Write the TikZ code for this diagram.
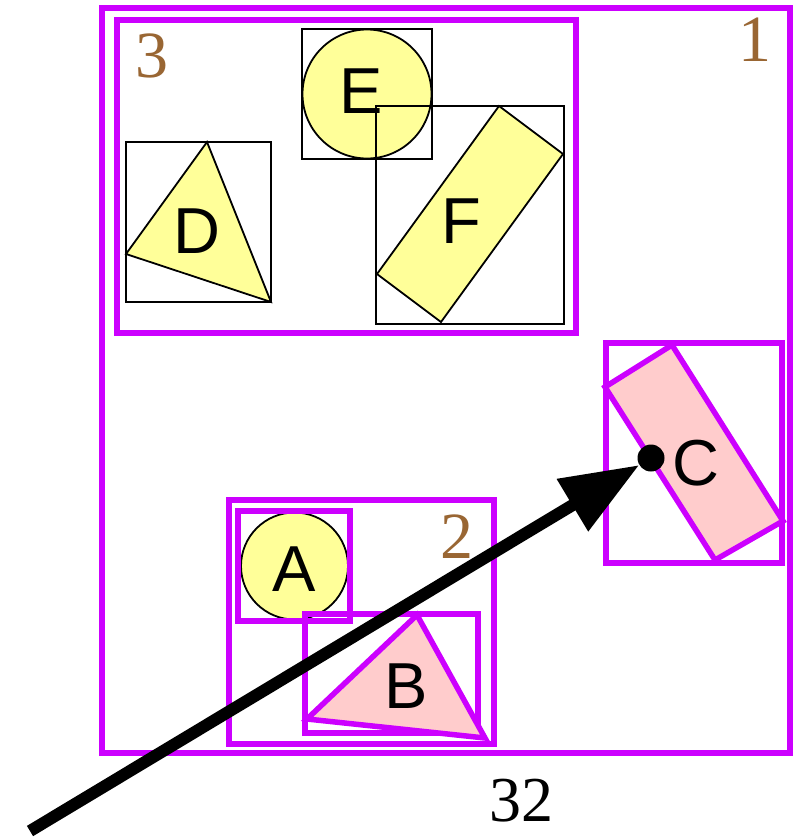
\documentclass[tikz,border=0pt]{standalone}
\usepackage{fontspec}
\setmainfont{Liberation Serif}
\newfontfamily\lettersans{Liberation Sans}
\usetikzlibrary{arrows.meta}
\definecolor{frame}{HTML}{CC00FF}
\definecolor{tag}{HTML}{996633}
\definecolor{paleyellow}{HTML}{FFFF99}
\definecolor{palepink}{HTML}{FFCCCC}
\begin{document}
\begin{tikzpicture}[x=1pt,y=-1pt,
  groupbox/.style={draw=frame, line width=5.5pt},
  thinbox/.style={draw=black, line width=1.8pt},
  yellowshape/.style={fill=paleyellow, draw=black, line width=1.8pt},
  pinkshape/.style={fill=palepink, draw=frame, line width=5.5pt, line join=miter},
  letter/.style={font=\lettersans\fontsize{65}{65}\selectfont, inner sep=0pt},
  tagnum/.style={text=tag, font=\fontsize{66}{66}\selectfont, inner sep=0pt},
]
\useasboundingbox (0,0) rectangle (798,838);

% outer group 1
\draw[groupbox] (102,8) rectangle (790,753);
\node[tagnum] (n1) at (755,40) {1};

% group 3 with D, E, F
\draw[groupbox] (117,20) rectangle (576,333);
\node[tagnum] (n3) at (152,56) {3};

\draw[thinbox] (126,142) rectangle (271,302);
\draw[yellowshape] (207,142) -- (126,254) -- (271,302) -- cycle;
\node[letter] (D) at (197,231) {D};

\draw[yellowshape] (367,94) circle (64.5);
\draw[thinbox] (302,29) rectangle (432,159);
\node[letter] (E) at (361,91) {E};

\draw[thinbox] (376,106) rectangle (564,324);
\draw[yellowshape] (499,106) -- (563,154) -- (441,322) -- (377,274) -- cycle;
\node[letter] (F) at (461,221) {F};

% group 2 with A and B
\draw[groupbox] (229,500) rectangle (494,744);
\node[tagnum] (n2) at (457,537) {2};

\draw[yellowshape] (294.5,566) circle (53.5);
\draw[groupbox] (238,511) rectangle (350,621);
\node[letter] (A) at (294,569) {A};

\draw[groupbox] (305,614) rectangle (478,733);
\draw[pinkshape] (417,615) -- (307,719) -- (485,738) -- cycle;
\node[letter] (B) at (406,686) {B};

% C
\draw[groupbox] (606,343) rectangle (782,563);
\draw[pinkshape] (672,345) -- (783,521) -- (715,560) -- (605,387) -- cycle;
\node[letter] (C) at (696,463) {C};
\node[circle, fill=black, inner sep=0pt, minimum size=27pt] (dot) at (651,458) {};

% scale label
\node[font=\fontsize{64}{64}\selectfont, inner sep=0pt] (n32) at (521,801) {32};

% arrow
\coordinate (start) at (30,831);
\draw[line width=12pt, -{Triangle[length=78pt,width=58pt]}] (start) -- (dot);
\end{tikzpicture}
\end{document}
